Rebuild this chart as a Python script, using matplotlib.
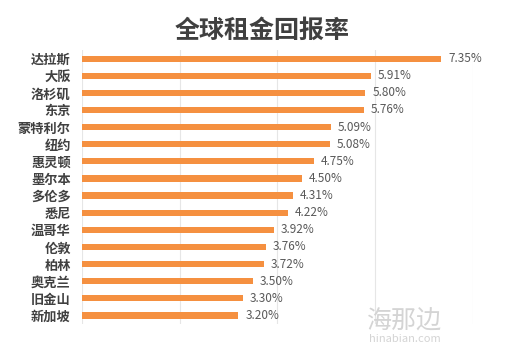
import matplotlib
matplotlib.use("Agg")
import matplotlib.pyplot as plt

plt.rcParams['font.family'] = ['Noto Sans CJK SC', 'DejaVu Sans']

# data
cities = ["达拉斯", "大阪", "洛杉矶", "东京", "蒙特利尔", "纽约", "惠灵顿", "墨尔本",
          "多伦多", "悉尼", "温哥华", "伦敦", "柏林", "奥克兰", "旧金山", "新加坡"]
returns = [7.35, 5.91, 5.80, 5.76, 5.09, 5.08, 4.75, 4.50,
           4.31, 4.22, 3.92, 3.76, 3.72, 3.50, 3.30, 3.20]

bar_color = "#F59040"
text_color = "#404040"

fig = plt.figure(figsize=(5.25, 3.6), dpi=100)
ax = fig.add_axes([0.156, 0.10, 0.745, 0.761])

ypos = list(range(len(cities)))
ax.barh(ypos, returns, height=0.36, color=bar_color, zorder=2)

for y, v in zip(ypos, returns):
    ax.text(v + 0.14, y, f"{v:.2f}%", va="center", ha="left",
            fontsize=8.5, color="#595959")

ax.set_xlim(0, 8)
ax.set_ylim(len(cities) - 0.5, -0.5)
ax.set_xticks([0, 2, 4, 6, 8])
ax.set_xticklabels([])
ax.set_yticks(ypos)
ax.set_yticklabels(cities, fontsize=9.5, fontweight="bold", color=text_color)
ax.tick_params(axis="both", length=0, pad=8)
ax.grid(axis="x", color="#E6E6E6", linewidth=0.8, zorder=0)
for s in ax.spines.values():
    s.set_visible(False)

fig.text(0.5, 0.915, "全球租金回报率", ha="center", va="center",
         fontsize=18, fontweight="bold", color=text_color)

# watermark
fig.text(0.771, 0.108, "海那边", ha="center", va="center", fontsize=18,
         fontweight="light", color="#D4D4D4")
fig.text(0.771, 0.058, "hinabian.com", ha="center", va="center", fontsize=8,
         color="#D4D4D4")

fig.savefig("out.png", dpi=100)
